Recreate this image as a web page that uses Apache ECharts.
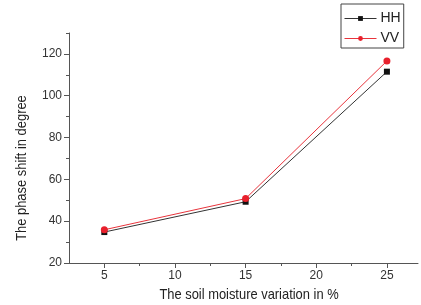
<!DOCTYPE html>
<html><head><meta charset="utf-8">
<script src="https://cdn.jsdelivr.net/npm/echarts@6/dist/echarts.min.js"></script>
<style>html,body{margin:0;padding:0;background:#fff}#c{width:421px;height:305px}</style>
</head><body><div id="c"></div>
<script>
var moisture = [5, 15, 25];
var hhValues = [34.8, 49.3, 111.5];
var vvValues = [35.9, 50.8, 116.6];
var xTickLabels = [5, 10, 15, 20, 25];
var xMinorTicks = [7.5, 12.5, 17.5, 22.5];
var yTickLabels = [20, 40, 60, 80, 100, 120];
var yMinorTicks = [30, 50, 70, 90, 110, 130];
var xTitle = 'The soil moisture variation in %';
var yTitle = 'The phase shift in degree';

var font = 'Liberation Sans';
var chart = echarts.init(document.getElementById('c'));
function pairs(xs, ys){ return xs.map(function(x,i){return [x, ys[i]];}); }
chart.setOption({
  animation: false,
  textStyle: {fontFamily: font},
  grid: {left: 69, top: 33, right: 3, bottom: 42, containLabel: false},
  legend: {
    orient: 'vertical', left: 341, top: 4,
    borderColor: '#444', borderWidth: 1, padding: [7, 3, 2, 3],
    itemWidth: 32, itemHeight: 6, itemGap: 5,
    lineStyle: {width: 1},
    textStyle: {fontFamily: font, fontSize: 14, color: '#222', lineHeight: 15, padding: [0,0,0,-1]},
    data: ['HH', 'VV']
  },
  graphic: [{
    type: 'text', x: 249, y: 295, scaleX: 0.86,
    style: {text: xTitle, font: '15px ' + font, fill: '#222', align: 'center', verticalAlign: 'middle'}
  }, {
    type: 'text', x: 22, y: 168, rotation: Math.PI / 2, scaleX: 0.86,
    style: {text: yTitle, font: '15px ' + font, fill: '#222', align: 'center', verticalAlign: 'middle'}
  }],
  xAxis: [{
    type: 'value', min: 2.5, max: 27.2,
    axisLine: {show: true, lineStyle: {color: '#555', width: 1}},
    axisTick: {show: true, inside: false, length: 5, customValues: xTickLabels, lineStyle: {color: '#555'}},
    axisLabel: {customValues: xTickLabels, color: '#333', fontSize: 12, margin: 7},
    splitLine: {show: false}
  }, {
    type: 'value', min: 2.5, max: 27.2, position: 'bottom',
    axisLine: {show: false},
    axisTick: {show: true, length: 3, customValues: xMinorTicks, lineStyle: {color: '#555'}},
    axisLabel: {show: false},
    splitLine: {show: false}
  }],
  yAxis: [{
    type: 'value', min: 20, max: 130,
    axisLine: {show: true, lineStyle: {color: '#555', width: 1}},
    axisTick: {show: true, length: 5, customValues: yTickLabels, lineStyle: {color: '#555'}},
    axisLabel: {customValues: yTickLabels, color: '#333', fontSize: 12, margin: 7},
    splitLine: {show: false}
  }, {
    type: 'value', min: 20, max: 130, position: 'left',
    axisLine: {show: false},
    axisTick: {show: true, length: 3, customValues: yMinorTicks, lineStyle: {color: '#555'}},
    axisLabel: {show: false},
    splitLine: {show: false}
  }],
  series: [{
    name: 'HH', type: 'line', data: pairs(moisture, hhValues),
    symbol: 'rect', symbolSize: 6,
    lineStyle: {color: '#333', width: 1},
    itemStyle: {color: '#111'}
  }, {
    name: 'VV', type: 'line', data: pairs(moisture, vvValues),
    symbol: 'circle', symbolSize: 7,
    lineStyle: {color: '#e8343c', width: 1},
    itemStyle: {color: '#e8202c'}
  }]
});
</script></body></html>
